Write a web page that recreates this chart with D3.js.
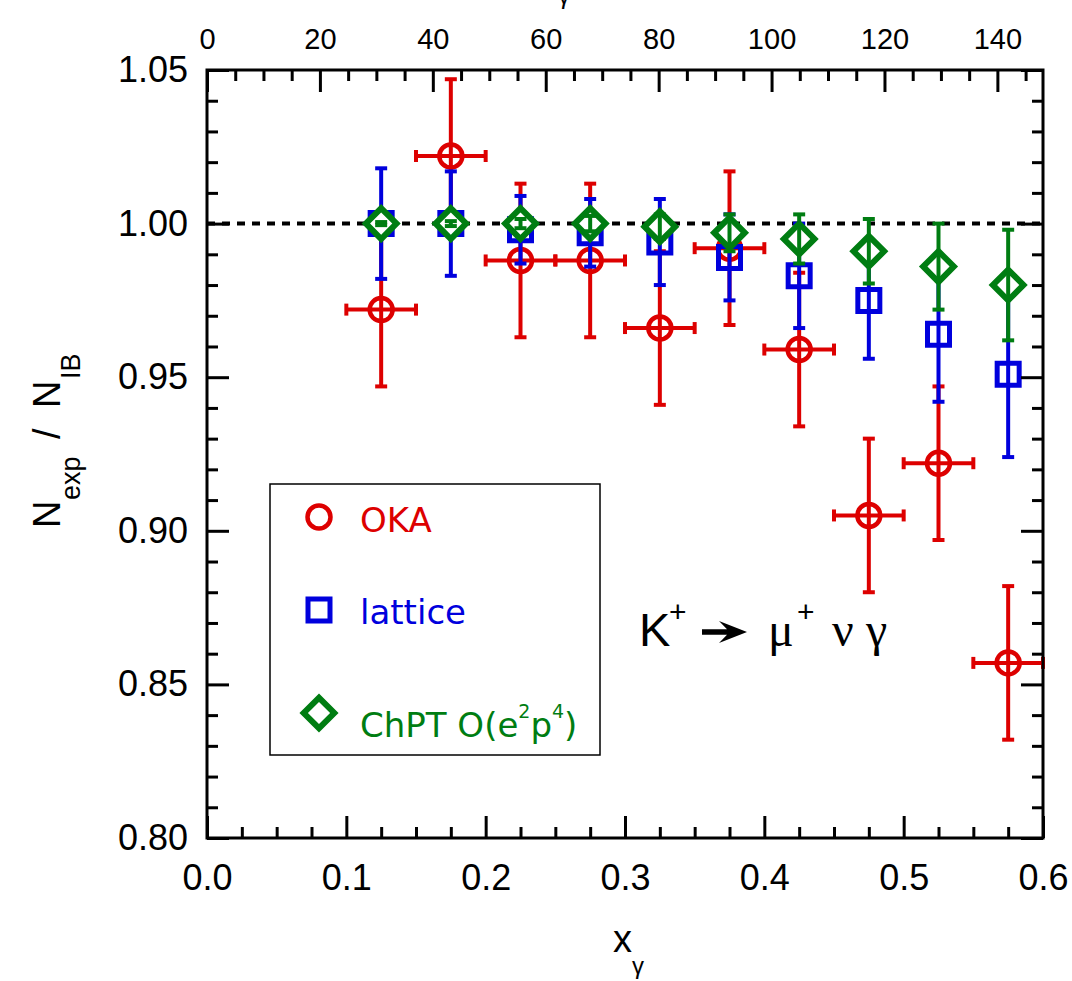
<!DOCTYPE html>
<html>
<head>
<meta charset="utf-8">
<script src="https://cdnjs.cloudflare.com/ajax/libs/d3/7.8.5/d3.min.js"></script>
<style>
    html, body { margin: 0; padding: 0; background: #fff; }
    svg { display: block; }
</style>
</head>
<body>
<div class="chart"></div>
<script>
// bin centres in x_gamma
const xBins = [0.125, 0.175, 0.225, 0.275, 0.325, 0.375, 0.425, 0.475, 0.525, 0.575];

// OKA measurement, N_exp / N_IB
const okaValues = [0.972, 1.022, 0.988, 0.988, 0.966, 0.992, 0.959, 0.905, 0.922, 0.857];
const okaErr = [0.025, 0.025, 0.025, 0.025, 0.025, 0.025, 0.025, 0.025, 0.025, 0.025];
const okaXErr = [0.025, 0.025, 0.025, 0.025, 0.025, 0.025, 0.025, 0.025, 0.025, 0.025];

// lattice prediction
const latticeValues = [1.000, 1.000, 0.998, 0.997, 0.994, 0.989, 0.983, 0.975, 0.964, 0.951];
const latticeErr = [0.018, 0.017, 0.011, 0.011, 0.014, 0.014, 0.017, 0.019, 0.022, 0.027];

// ChPT O(e2p4) prediction
const chptValues = [1.000, 1.000, 1.000, 1.000, 0.999, 0.997, 0.995, 0.991, 0.986, 0.980];
const chptErr = [0.0005, 0.0008, 0.0015, 0.0025, 0.004, 0.006, 0.008, 0.0105, 0.014, 0.018];

// axes
const xTicks = [0.0, 0.1, 0.2, 0.3, 0.4, 0.5, 0.6];
const yTicks = [0.80, 0.85, 0.90, 0.95, 1.00, 1.05];
const eTicks = [0, 20, 40, 60, 80, 100, 120, 140];
const kaonHalfMass = 246.8; // MeV, E_gamma = x_gamma * m_K / 2

function ratioChart() {
    const width = 1072,
        height = 981,
        margin = { top: 70, right: 29, bottom: 143, left: 207 },
        red = '#dd0000',
        blue = '#0000dd',
        green = '#007d12',
        sans = 'Liberation Sans, Arial, sans-serif';

    const x = d3.scaleLinear().domain([0, 0.6]).range([margin.left, width - margin.right]);
    const y = d3.scaleLinear().domain([0.80, 1.05]).range([height - margin.bottom, margin.top]);
    const e = d3.scaleLinear().domain([0, 0.6 * kaonHalfMass]).range(x.range());

    const svg = d3.select('.chart').append('svg')
        .attr('width', width)
        .attr('height', height);

    // reference line at 1
    svg.append('line')
        .attr('x1', x(0)).attr('x2', x(0.6))
        .attr('y1', y(1)).attr('y2', y(1))
        .attr('stroke', '#000')
        .attr('stroke-width', 4)
        .attr('stroke-dasharray', '8,7');

    const series = [
        { name: 'OKA', values: okaValues, err: okaErr, xErr: okaXErr, color: red, shape: 'circle' },
        { name: 'lattice', values: latticeValues, err: latticeErr, color: blue, shape: 'square' },
        { name: 'chpt', values: chptValues, err: chptErr, color: green, shape: 'diamond' }
    ];

    function marker(g, shape, color, px, py) {
        if (shape === 'circle') {
            g.append('circle')
                .attr('cx', px).attr('cy', py).attr('r', 11.5)
                .attr('fill', 'none')
                .attr('stroke', color)
                .attr('stroke-width', 4.5);
        } else if (shape === 'square') {
            g.append('path')
                .attr('d', d3.symbol(d3.symbolSquare, 22 * 22)())
                .attr('transform', `translate(${px},${py})`)
                .attr('fill', 'none')
                .attr('stroke', color)
                .attr('stroke-width', 5);
        } else {
            g.append('path')
                .attr('d', d3.symbol(d3.symbolSquare, 470)())
                .attr('transform', `translate(${px},${py}) rotate(45)`)
                .attr('fill', '#fff')
                .attr('stroke', color)
                .attr('stroke-width', 6);
        }
    }

    function seg(g, color, x1, y1, x2, y2) {
        g.append('line')
            .attr('x1', x1).attr('y1', y1)
            .attr('x2', x2).attr('y2', y2)
            .attr('stroke', color)
            .attr('stroke-width', 4);
    }

    const cap = 6;
    series.forEach(s => {
        const g = svg.append('g').attr('class', 'series-' + s.name);
        xBins.forEach((b, i) => {
            const px = x(b), py = y(s.values[i]);
            marker(g, s.shape, s.color, px, py);
            const top = y(s.values[i] + s.err[i]), bot = y(s.values[i] - s.err[i]);
            seg(g, s.color, px, top, px, bot);
            seg(g, s.color, px - cap, top, px + cap, top);
            seg(g, s.color, px - cap, bot, px + cap, bot);
            if (s.xErr) {
                const l = x(b - s.xErr[i]), r = x(b + s.xErr[i]);
                seg(g, s.color, l, py, r, py);
                seg(g, s.color, l, py - cap, l, py + cap);
                seg(g, s.color, r, py - cap, r, py + cap);
            }
        });
    });

    // axes, ticks point inward
    const xMinor = d3.range(0, 25).map(i => i * 0.025).filter((v, i) => i % 4 !== 0);
    const yMinor = d3.range(0, 26).map(i => 0.80 + i * 0.01).filter((v, i) => i % 5 !== 0);
    const eMinor = d3.range(1, 30).map(i => i * 5).filter(v => v % 20 !== 0);

    function styleAxis(g, size) {
        g.select('.domain').remove();
        g.selectAll('line').attr('stroke', '#000').attr('stroke-width', 3);
        g.attr('font-family', sans).attr('font-size', size);
        g.selectAll('text').attr('fill', '#000');
    }

    const bottom = height - margin.bottom;
    const right = width - margin.right;

    svg.append('g')
        .attr('transform', `translate(0,${bottom})`)
        .call(d3.axisBottom(x).tickValues(xTicks).tickSize(-22).tickPadding(26).tickFormat(d3.format('.1f')))
        .call(g => styleAxis(g, 36));
    svg.append('g')
        .attr('transform', `translate(0,${bottom})`)
        .call(d3.axisBottom(x).tickValues(xMinor).tickSize(-11).tickFormat(''))
        .call(g => styleAxis(g, 36));

    svg.append('g')
        .attr('transform', `translate(${margin.left},0)`)
        .call(d3.axisLeft(y).tickValues(yTicks).tickSize(-22).tickPadding(19).tickFormat(d3.format('.2f')))
        .call(g => styleAxis(g, 36));
    svg.append('g')
        .attr('transform', `translate(${margin.left},0)`)
        .call(d3.axisLeft(y).tickValues(yMinor).tickSize(-11).tickFormat(''))
        .call(g => styleAxis(g, 36));

    svg.append('g')
        .attr('transform', `translate(${right},0)`)
        .call(d3.axisRight(y).tickValues(yTicks).tickSize(-22).tickFormat(''))
        .call(g => styleAxis(g, 36));
    svg.append('g')
        .attr('transform', `translate(${right},0)`)
        .call(d3.axisRight(y).tickValues(yMinor).tickSize(-11).tickFormat(''))
        .call(g => styleAxis(g, 36));

    svg.append('g')
        .attr('transform', `translate(0,${margin.top})`)
        .call(d3.axisTop(e).tickValues(eTicks).tickSize(-22).tickPadding(21))
        .call(g => styleAxis(g, 29));
    svg.append('g')
        .attr('transform', `translate(0,${margin.top})`)
        .call(d3.axisTop(e).tickValues(eMinor).tickSize(-11).tickFormat(''))
        .call(g => styleAxis(g, 29));

    // frame
    svg.append('rect')
        .attr('x', margin.left).attr('y', margin.top)
        .attr('width', right - margin.left)
        .attr('height', bottom - margin.top)
        .attr('fill', 'none')
        .attr('stroke', '#000')
        .attr('stroke-width', 3);

    // axis titles
    const xl = svg.append('text')
        .attr('x', 613).attr('y', 952)
        .attr('font-family', sans)
        .attr('fill', '#000');
    xl.append('tspan').attr('font-size', 38).text('x');
    xl.append('tspan').attr('font-size', 24).attr('dy', 22).text('γ');

    // top title lies above the page in the original, only its subscript shows
    svg.append('text')
        .attr('x', 558).attr('y', 4)
        .attr('font-family', sans)
        .attr('font-size', 24)
        .attr('fill', '#000')
        .text('γ');

    const yl = svg.append('text')
        .attr('transform', 'translate(60,528) rotate(-90)')
        .attr('font-family', sans)
        .attr('fill', '#000');
    yl.append('tspan').attr('x', 0).attr('font-size', 38).text('N');
    yl.append('tspan').attr('x', 28).attr('dy', 20).attr('font-size', 27).text('exp');
    yl.append('tspan').attr('x', 89).attr('dy', -20).attr('font-size', 38).text('/');
    yl.append('tspan').attr('x', 120).attr('font-size', 38).text('N');
    yl.append('tspan').attr('x', 149).attr('dy', 20).attr('font-size', 27).text('IB');

    // legend
    const legend = svg.append('g').attr('class', 'legend');
    legend.append('rect')
        .attr('x', 270).attr('y', 484)
        .attr('width', 330).attr('height', 271)
        .attr('fill', '#fff')
        .attr('stroke', '#000')
        .attr('stroke-width', 1.5);
    const rows = [
        { s: series[0], my: 517, ty: 532, label: ['OKA'] },
        { s: series[1], my: 610, ty: 624, label: ['lattice'] },
        { s: series[2], my: 713, ty: 737, label: ['ChPT O(e', '2', 'p', '4', ')'] }
    ];
    rows.forEach(r => {
        marker(legend, r.s.shape, r.s.color, 319, r.my);
        const t = legend.append('text')
            .attr('x', 360).attr('y', r.ty)
            .attr('font-family', 'DejaVu Sans, sans-serif')
            .attr('font-size', 34)
            .attr('fill', r.s.color);
        r.label.forEach((part, i) => {
            const sup = i % 2 === 1;
            t.append('tspan')
                .attr('font-size', sup ? 19 : 34)
                .attr('dy', i === 0 ? 0 : (sup ? -19 : 19))
                .text(part);
        });
    });

    // reaction label
    const rg = svg.append('g').attr('class', 'reaction').attr('fill', '#000');
    rg.append('text').attr('x', 639).attr('y', 646)
        .attr('font-family', sans).attr('font-size', 47).text('K');
    rg.append('text').attr('x', 669).attr('y', 622)
        .attr('font-family', sans).attr('font-size', 30).text('+');
    rg.append('path')
        .attr('transform', 'translate(702,632)')
        .attr('d', 'M0,-2.8 H25 L17,-11 L45,0 L17,11 L25,2.8 H0 Z');
    rg.append('text').attr('x', 768).attr('y', 646)
        .attr('font-family', 'Liberation Serif, serif').attr('font-size', 48).text('μ');
    rg.append('text').attr('x', 797).attr('y', 622)
        .attr('font-family', sans).attr('font-size', 30).text('+');
    rg.append('text').attr('x', 832).attr('y', 646)
        .attr('font-family', 'Liberation Serif, serif').attr('font-size', 48).text('ν');
    rg.append('text').attr('x', 866).attr('y', 646)
        .attr('font-family', 'Liberation Serif, serif').attr('font-size', 48).text('γ');
}

ratioChart();
</script>
</body>
</html>
